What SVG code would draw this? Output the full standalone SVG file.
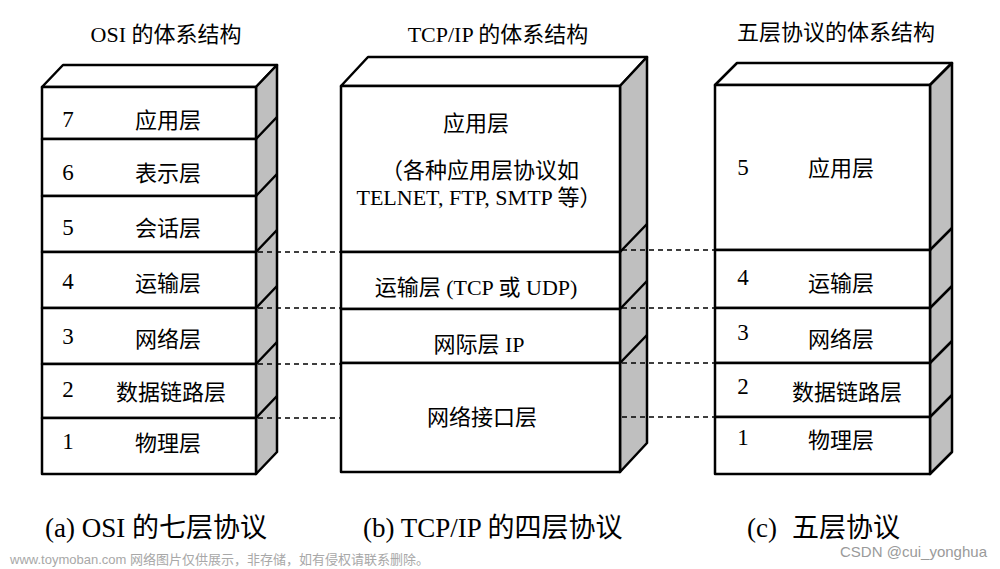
<svg xmlns="http://www.w3.org/2000/svg" width="1000" height="569" viewBox="0 0 1000 569">
<style>
.edge{fill:none;stroke:#000;stroke-width:2.5;stroke-linejoin:round}
.face{fill:#fff;stroke:#000;stroke-width:2.5;stroke-linejoin:round}
.side{fill:#bfbfbf;stroke:#000;stroke-width:2.5;stroke-linejoin:round}
.dash{fill:none;stroke:#000;stroke-width:1.5;stroke-dasharray:5 4}
.t{font-family:"Liberation Serif","Noto Sans CJK SC",serif;fill:#000}
.lbl{font-size:22px;text-anchor:middle}
.num{font-size:23px;text-anchor:middle}
.title{font-size:22px;text-anchor:middle}
.cap{font-size:27px}
.wm{font-family:"Liberation Sans","Noto Sans CJK SC",sans-serif;fill:#a8a8a8}
</style>
<rect width="1000" height="569" fill="#fff"/>

<!-- OSI stack -->
<g id="osi">
  <text class="t title" x="166" y="42">OSI 的体系结构</text>
  <g id="osi-shell">
    <polygon class="face" points="42,87 63,65 277,65 256,87"/>
    <polygon class="side" points="256,87 277,65 277,452 256,474"/>
    <path class="edge" d="M256,139 L277,117 M256,196 L277,174 M256,252 L277,230 M256,308 L277,286 M256,364 L277,342 M256,418 L277,396"/>
  </g>
  <g id="osi-7"><rect class="face" x="42" y="87" width="214" height="52"/><text class="t num" x="68" y="127">7</text><text class="t lbl" x="168" y="128">应用层</text></g>
  <g id="osi-6"><rect class="face" x="42" y="139" width="214" height="57"/><text class="t num" x="68" y="180">6</text><text class="t lbl" x="168" y="181">表示层</text></g>
  <g id="osi-5"><rect class="face" x="42" y="196" width="214" height="56"/><text class="t num" x="68" y="235">5</text><text class="t lbl" x="168" y="236">会话层</text></g>
  <g id="osi-4"><rect class="face" x="42" y="252" width="214" height="56"/><text class="t num" x="68" y="289">4</text><text class="t lbl" x="168" y="291">运输层</text></g>
  <g id="osi-3"><rect class="face" x="42" y="308" width="214" height="56"/><text class="t num" x="68" y="344">3</text><text class="t lbl" x="168" y="347">网络层</text></g>
  <g id="osi-2"><rect class="face" x="42" y="364" width="214" height="54"/><text class="t num" x="68" y="397">2</text><text class="t lbl" x="171" y="400">数据链路层</text></g>
  <g id="osi-1"><rect class="face" x="42" y="418" width="214" height="56"/><text class="t num" x="68" y="449">1</text><text class="t lbl" x="168" y="451">物理层</text></g>
</g>

<!-- TCP/IP stack -->
<g id="tcpip">
  <text class="t title" x="498" y="42">TCP/IP 的体系结构</text>
  <g id="tcp-shell">
    <polygon class="face" points="341,86 368,57 647,57 620,86"/>
    <polygon class="side" points="620,86 647,57 647,443 620,472"/>
    <path class="edge" d="M620,252 L647,224 M620,309 L647,281 M620,363 L647,335"/>
  </g>
  <g id="tcp-app"><rect class="face" x="341" y="86" width="279" height="166"/>
    <text class="t lbl" x="476" y="131">应用层</text>
    <text class="t lbl" x="480" y="178">（各种应用层协议如</text>
    <text class="t lbl" x="479" y="205">TELNET, FTP, SMTP 等）</text></g>
  <g id="tcp-transport"><rect class="face" x="341" y="252" width="279" height="57"/><text class="t lbl" x="476" y="295">运输层 (TCP 或 UDP)</text></g>
  <g id="tcp-internet"><rect class="face" x="341" y="309" width="279" height="54"/><text class="t lbl" x="479" y="352">网际层 IP</text></g>
  <g id="tcp-netif"><rect class="face" x="341" y="363" width="279" height="109"/><text class="t lbl" x="482" y="425">网络接口层</text></g>
</g>

<!-- Five-layer stack -->
<g id="five">
  <text class="t title" x="836" y="40">五层协议的体系结构</text>
  <g id="five-shell">
    <polygon class="face" points="715,85 737,63 952,63 930,85"/>
    <polygon class="side" points="930,85 952,63 952,452 930,474"/>
    <path class="edge" d="M930,250 L952,228 M930,308 L952,286 M930,363 L952,341 M930,417 L952,395"/>
  </g>
  <g id="five-5"><rect class="face" x="715" y="85" width="215" height="165"/><text class="t num" x="743" y="175">5</text><text class="t lbl" x="841" y="176">应用层</text></g>
  <g id="five-4"><rect class="face" x="715" y="250" width="215" height="58"/><text class="t num" x="743" y="285">4</text><text class="t lbl" x="841" y="291">运输层</text></g>
  <g id="five-3"><rect class="face" x="715" y="308" width="215" height="55"/><text class="t num" x="743" y="340">3</text><text class="t lbl" x="841" y="347">网络层</text></g>
  <g id="five-2"><rect class="face" x="715" y="363" width="215" height="54"/><text class="t num" x="743" y="394">2</text><text class="t lbl" x="847" y="400">数据链路层</text></g>
  <g id="five-1"><rect class="face" x="715" y="417" width="215" height="57"/><text class="t num" x="743" y="445">1</text><text class="t lbl" x="841" y="448">物理层</text></g>
</g>

<!-- connectors -->
<g id="connectors">
  <path class="dash" d="M258,252 H341 M258,308 H341 M258,364 H341 M258,418 H341"/>
  <path class="dash" d="M622,250 H715 M622,308 H715 M622,363 H715 M622,417 H715"/>
</g>

<!-- captions -->
<g id="captions">
  <text class="t cap" x="45" y="537">(a) OSI 的七层协议</text>
  <text class="t cap" x="363" y="537">(b) TCP/IP 的四层协议</text>
  <text class="t cap" x="747" y="537">(c)<tspan x="792">五层协议</tspan></text>
</g>

<!-- watermarks -->
<text class="wm" x="10" y="564" font-size="13">www.toymoban.com 网络图片仅供展示，非存储，如有侵权请联系删除。</text>
<text class="wm" x="840" y="557" font-size="15" style="fill:#9a9a9a">CSDN @cui_yonghua</text>
</svg>
